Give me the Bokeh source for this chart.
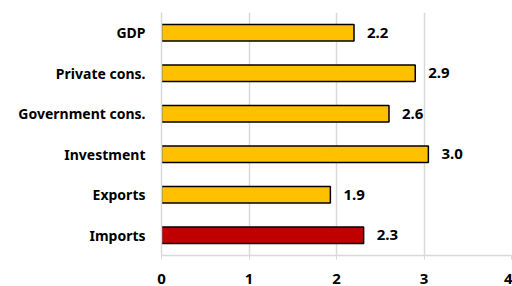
from bokeh.plotting import figure
from bokeh.models import FactorRange, Range1d, ColumnDataSource, FixedTicker
from bokeh.core.properties import value
from bokeh.embed import file_html
from bokeh.resources import INLINE

categories = ["GDP", "Private cons.", "Government cons.", "Investment", "Exports", "Imports"]
values = [2.2, 2.9, 2.6, 3.05, 1.93, 2.31]
labels = ["2.2", "2.9", "2.6", "3.0", "1.9", "2.3"]
colors = ["#FFC000", "#FFC000", "#FFC000", "#FFC000", "#FFC000", "#C00000"]
x_ticks = [0, 1, 2, 3, 4]

FONT = "Noto Sans"

src = ColumnDataSource(dict(cat=categories, val=values, lab=labels, col=colors))

p = figure(
    y_range=FactorRange(*reversed(categories)),
    x_range=Range1d(0, 4),
    frame_width=350, frame_height=243,
    min_border_left=161, min_border_right=1, min_border_top=12, min_border_bottom=31,
    output_backend="svg", toolbar_location=None,
)
p.outline_line_color = None
p.background_fill_color = "white"

p.hbar(y="cat", right="val", left=0, height=0.41, fill_color="col",
       line_color="black", line_width=1.5, source=src)
p.text(x="val", y="cat", text="lab", source=src, x_offset=13,
       text_baseline="middle", text_align="left",
       text_font=value(FONT), text_font_style="bold", text_font_size="15px",
       text_color="black")

p.xgrid.grid_line_color = "#D9D9D9"
p.xgrid.grid_line_width = 1.5
p.ygrid.grid_line_color = None

p.xaxis.ticker = FixedTicker(ticks=x_ticks)
p.xaxis.axis_line_color = "#D9D9D9"
p.xaxis.axis_line_width = 1.5
p.xaxis.major_tick_line_color = "#D9D9D9"
p.xaxis.major_tick_out = 4
p.xaxis.major_tick_in = 0
p.xaxis.minor_tick_line_color = None
p.xaxis.major_label_text_font = FONT
p.xaxis.major_label_text_font_style = "bold"
p.xaxis.major_label_text_font_size = "15px"
p.xaxis.major_label_text_color = "black"
p.xaxis.major_label_standoff = 14

p.yaxis.axis_line_color = "#D9D9D9"
p.yaxis.axis_line_width = 1.5
p.yaxis.major_tick_line_color = None
p.yaxis.major_tick_out = 0
p.yaxis.major_tick_in = 0
p.yaxis.major_label_text_font = FONT
p.yaxis.major_label_text_font_style = "bold"
p.yaxis.major_label_text_font_size = "14px"
p.yaxis.major_label_text_color = "black"
p.yaxis.major_label_standoff = 16

open("out.html", "w").write(file_html(p, INLINE))
